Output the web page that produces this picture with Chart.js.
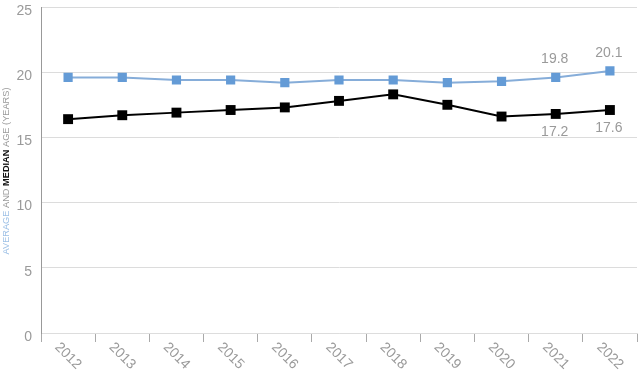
<!DOCTYPE html>
<html>
<head>
<meta charset="utf-8">
<script src="https://cdn.jsdelivr.net/npm/chart.js@4"></script>
<style>
  html, body { margin: 0; padding: 0; background: #fff; }
  #wrap { width: 644px; height: 373px; }
</style>
</head>
<body>
<div id="wrap"><canvas id="ageChart"></canvas></div>
<script>
const years = ['2012', '2013', '2014', '2015', '2016', '2017', '2018', '2019', '2020', '2021', '2022'];
const averageAge = [19.6, 19.6, 19.4, 19.4, 19.2, 19.4, 19.4, 19.2, 19.3, 19.6, 20.1];
const medianAge = [16.4, 16.7, 16.9, 17.1, 17.3, 17.8, 18.3, 17.5, 16.6, 16.8, 17.1];
const yTicks = [0, 5, 10, 15, 20, 25];
// value notes printed next to the last two years
const averageNotes = [null, null, null, null, null, null, null, null, null, '19.8', '20.1'];
const medianNotes = [null, null, null, null, null, null, null, null, null, '17.2', '17.6'];

const grey = '#9a9a9a';
const font = "'Liberation Sans', Arial, sans-serif";

// rotated year labels, drawn by hand because they slope downward
const yearLabels = {
  id: 'yearLabels',
  afterDraw(chart) {
    const ctx = chart.ctx;
    const x = chart.scales.x;
    ctx.save();
    ctx.font = '14px ' + font;
    ctx.fillStyle = grey;
    ctx.textAlign = 'center';
    ctx.textBaseline = 'middle';
    years.forEach((y, i) => {
      ctx.save();
      ctx.translate(x.getPixelForTick(i), x.top + 23);
      ctx.rotate(Math.PI / 4);
      ctx.fillText(y, 0, 0);
      ctx.restore();
    });
    ctx.restore();
  }
};

// multi-colour y axis title
const axisTitle = {
  id: 'axisTitle',
  afterDraw(chart) {
    const ctx = chart.ctx;
    const parts = [
      ['AVERAGE ', '#9dc0e6', 'normal'],
      ['AND ', grey, 'normal'],
      ['MEDIAN', '#111', 'bold'],
      [' AGE (YEARS)', grey, 'normal']
    ];
    ctx.save();
    let total = 0;
    parts.forEach(p => { ctx.font = p[2] + ' 9px ' + font; total += ctx.measureText(p[0]).width; });
    ctx.translate(7, 171);
    ctx.rotate(-Math.PI / 2);
    ctx.scale(167 / total, 1);
    ctx.textBaseline = 'middle';
    ctx.textAlign = 'left';
    let pos = -total / 2;
    parts.forEach(p => {
      ctx.font = p[2] + ' 9px ' + font;
      ctx.fillStyle = p[1];
      ctx.fillText(p[0], pos, 0);
      pos += ctx.measureText(p[0]).width;
    });
    ctx.restore();
  }
};

// value notes above the average line and below the median line
const valueNotes = {
  id: 'valueNotes',
  afterDatasetsDraw(chart) {
    const ctx = chart.ctx;
    ctx.save();
    ctx.font = '14px ' + font;
    ctx.fillStyle = grey;
    ctx.textAlign = 'center';
    ctx.textBaseline = 'middle';
    chart.getDatasetMeta(0).data.forEach((pt, i) => {
      if (averageNotes[i]) ctx.fillText(averageNotes[i], pt.x - 1, pt.y - 18);
    });
    chart.getDatasetMeta(1).data.forEach((pt, i) => {
      if (medianNotes[i]) ctx.fillText(medianNotes[i], pt.x - 1, pt.y + 18);
    });
    ctx.restore();
  }
};

const ctx = document.getElementById('ageChart').getContext('2d');
const ageChart = new Chart(ctx, {
  type: 'line',
  data: {
    labels: years,
    datasets: [{
      label: 'Average',
      data: averageAge,
      borderColor: '#86add9',
      borderWidth: 2,
      pointStyle: 'rect',
      pointRadius: 6.5,
      pointBackgroundColor: '#649bd6',
      pointBorderWidth: 0,
      tension: 0
    }, {
      label: 'Median',
      data: medianAge,
      borderColor: '#000',
      borderWidth: 2,
      pointStyle: 'rect',
      pointRadius: 7,
      pointBackgroundColor: '#000',
      pointBorderWidth: 0,
      tension: 0
    }]
  },
  options: {
    responsive: true,
    maintainAspectRatio: false,
    animation: false,
    layout: { padding: { top: -2, right: 3, left: 0, bottom: 0 } },
    plugins: {
      legend: { display: false },
      tooltip: { enabled: false }
    },
    scales: {
      x: {
        offset: true,
        grid: { offset: true, drawOnChartArea: false, tickLength: 9, color: '#aaa' },
        border: { color: '#ddd' },
        ticks: { display: false },
        afterFit(scale) { scale.height = 40; scale.paddingLeft = 0; scale.paddingRight = 0; }
      },
      y: {
        min: 0,
        max: 25,
        afterBuildTicks(scale) { scale.ticks = yTicks.map(v => ({ value: v })); },
        grid: { color: '#dcdcdc', drawTicks: false },
        border: { color: '#999' },
        ticks: {
          color: grey,
          font: { family: font, size: 14 },
          padding: 9,
          labelOffset: 4
        },
        afterFit(scale) { scale.width = 41; scale.paddingTop = 0; scale.paddingBottom = 0; }
      }
    }
  },
  plugins: [yearLabels, axisTitle, valueNotes]
});
</script>
</body>
</html>
